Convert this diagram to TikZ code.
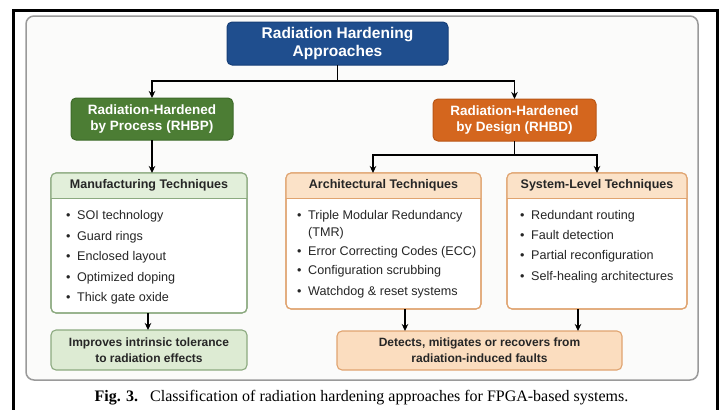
\documentclass[tikz,border=0pt]{standalone}
\usepackage{fontspec}
\setmainfont{Liberation Serif}
\setsansfont{Liberation Sans}
\usetikzlibrary{arrows.meta,calc}
\definecolor{topblue}{HTML}{1F4E8E}
\definecolor{topborder}{HTML}{163F78}
\definecolor{dgreen}{HTML}{4C7D34}
\definecolor{dgreenb}{HTML}{3D6A29}
\definecolor{dorange}{HTML}{D4661E}
\definecolor{dorangeb}{HTML}{B95616}
\definecolor{lgreen}{HTML}{E2EFDA}
\definecolor{gborder}{HTML}{8CAA80}
\definecolor{lorange}{HTML}{FBE2C8}
\definecolor{oborder}{HTML}{E0A470}
\definecolor{bgreen}{HTML}{DDEBD3}
\definecolor{borange}{HTML}{FBDDBF}
\definecolor{panelfill}{HTML}{FBFBFA}
\definecolor{panelline}{HTML}{9A9A9A}
\newcommand{\bul}{\makebox[11pt][l]{•}}
\begin{document}
\begin{tikzpicture}[x=1pt,y=-1pt,
  conn/.style={line width=1.4pt, black},
  arr/.style={conn, -{Stealth[length=7pt,width=6.5pt]}},
  headbox/.style={rounded corners=5pt, outer sep=0pt, inner sep=0pt, align=center, text=white,
    font=\sffamily\bfseries\fontsize{13.5}{16}\selectfont, line width=1pt},
  listbox/.style={draw, line width=1.1pt, rounded corners=5pt, fill=white, outer sep=0pt, inner sep=0pt},
  resbox/.style={draw, line width=1.1pt, rounded corners=5pt, outer sep=0pt, inner sep=0pt, align=center,
    text=black!85, font=\sffamily\bfseries\fontsize{12}{16}\selectfont},
  hdr/.style={inner sep=0pt, text=black!85, font=\sffamily\bfseries\fontsize{12.5}{15}\selectfont},
  item/.style={anchor=base west, inner sep=0pt, text=black!85, font=\sffamily\fontsize{12.6}{15}\selectfont}
]
\useasboundingbox (0,0) rectangle (724,410);
\fill[white] (0,0) rectangle (724,410);
% outer frame
\draw[black, line width=3pt] (13.5,420) -- (13.5,10) -- (717,10) -- (717,420);
% panel
\draw[panelline, line width=1.5pt, rounded corners=8pt, fill=panelfill] (26,16) rectangle (698,380);

% top node
\node[headbox, fill=topblue, draw=topborder, minimum width=221pt, minimum height=43pt,
  font=\sffamily\bfseries\fontsize{15.5}{18.5}\selectfont] (top) at (337.5,43.5)
  {Radiation Hardening\\Approaches};
% level 2
\node[headbox, fill=dgreen, draw=dgreenb, minimum width=162pt, minimum height=42pt] (rhbp) at (152,119)
  {Radiation-Hardened\\by Process (RHBP)};
\node[headbox, fill=dorange, draw=dorangeb, minimum width=163pt, minimum height=42pt] (rhbd) at (514.5,120)
  {Radiation-Hardened\\by Design (RHBD)};

% list boxes
\node[listbox, draw=gborder, minimum width=196pt, minimum height=140pt] (mfg) at (149,243) {};
\node[listbox, draw=oborder, minimum width=195pt, minimum height=136pt] (arch) at (383.5,241) {};
\node[listbox, draw=oborder, minimum width=180pt, minimum height=136pt] (sys) at (597,241) {};

\begin{scope}
  \clip[rounded corners=5pt] (mfg.north west) rectangle (mfg.south east);
  \fill[lgreen] (mfg.north west) rectangle ([yshift=-25pt]mfg.north east);
\end{scope}
\begin{scope}
  \clip[rounded corners=5pt] (arch.north west) rectangle (arch.south east);
  \fill[lorange] (arch.north west) rectangle ([yshift=-25pt]arch.north east);
\end{scope}
\begin{scope}
  \clip[rounded corners=5pt] (sys.north west) rectangle (sys.south east);
  \fill[lorange] (sys.north west) rectangle ([yshift=-25pt]sys.north east);
\end{scope}
\draw[gborder, line width=1pt] ([yshift=-25pt]mfg.north west) -- ([yshift=-25pt]mfg.north east);
\draw[oborder, line width=1pt] ([yshift=-25pt]arch.north west) -- ([yshift=-25pt]arch.north east);
\draw[oborder, line width=1pt] ([yshift=-25pt]sys.north west) -- ([yshift=-25pt]sys.north east);
\draw[gborder, line width=1.1pt, rounded corners=5pt] (mfg.north west) rectangle (mfg.south east);
\draw[oborder, line width=1.1pt, rounded corners=5pt] (arch.north west) rectangle (arch.south east);
\draw[oborder, line width=1.1pt, rounded corners=5pt] (sys.north west) rectangle (sys.south east);

\node[hdr] (mfgh) at ([yshift=-12.5pt]mfg.north) {Manufacturing Techniques};
\node[hdr] (archh) at ([yshift=-12.5pt]arch.north) {Architectural Techniques};
\node[hdr] (sysh) at ([yshift=-12.5pt]sys.north) {System-Level Techniques};

\foreach \t [count=\i] in {SOI technology, Guard rings, Enclosed layout, Optimized doping, Thick gate oxide}
  \node[item] (m\i) at (66, 199+20.5*\i) {\bul\t};

\node[item] (a1) at (297, 219.5) {\bul Triple Modular Redundancy};
\node[item] (a1b) at (308, 236.5) {(TMR)};
\node[item] (a2) at (297, 255.5) {\bul Error Correcting Codes (ECC)};
\node[item] (a3) at (297, 274.5) {\bul Configuration scrubbing};
\node[item] (a4) at (297, 295) {\bul Watchdog \& reset systems};

\foreach \t [count=\i] in {Redundant routing, Fault detection, Partial reconfiguration, Self-healing architectures}
  \node[item] (s\i) at (520, 199+20.3*\i) {\bul\t};

% result boxes
\node[resbox, draw=gborder, fill=bgreen, minimum width=196pt, minimum height=40pt] (bg) at (149,350)
  {Improves intrinsic tolerance\\to radiation effects};
\node[resbox, draw=oborder, fill=borange, minimum width=285pt, minimum height=39pt] (bo) at (479.5,350.5)
  {Detects, mitigates or recovers from\\radiation-induced faults};

% connectors
\path (top.south) ++(0,16) coordinate (j1);
\draw[conn] (top.south) -- (j1);
\draw[arr] (j1) -| (rhbp.north);
\draw[arr] (j1) -| (rhbd.north);
\draw[arr] (rhbp.south) -- (rhbp.south |- mfg.north);
\path (rhbd.south) ++(0,14) coordinate (j2);
\draw[conn] (rhbd.south) -- (j2);
\draw[arr] (j2) -| ([xshift=-10.5pt]arch.north);
\draw[arr] (j2) -| (sys.north);
\draw[arr] ([xshift=-1pt]mfg.south) -- ([xshift=-1pt]mfg.south |- bg.north);
\draw[arr] ([xshift=21.5pt]arch.south) -- ([xshift=21.5pt]arch.south |- bo.north);
\draw[arr] ([xshift=-19pt]sys.south) -- ([xshift=-19pt]sys.south |- bo.north);

% caption
\node[inner sep=0pt, font=\fontsize{16}{18}\selectfont] (cap) at (361.5,398)
  {\textbf{Fig. 3.}\hspace{12pt}Classification of radiation hardening approaches for FPGA-based systems.};
\end{tikzpicture}
\end{document}
